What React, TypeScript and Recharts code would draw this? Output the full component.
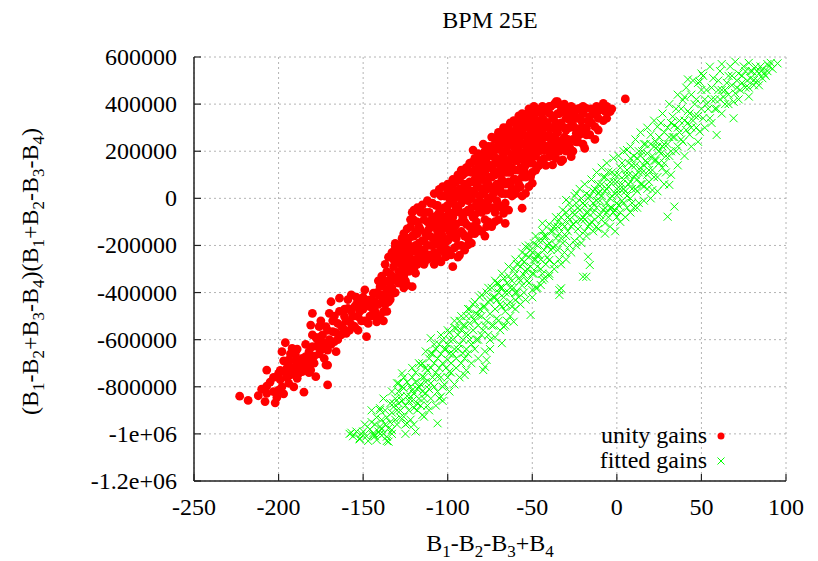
import React from "react";
import { ScatterChart, Scatter, XAxis, YAxis, CartesianGrid } from "recharts";

// values, [B1-B2-B3+B4, (B1-B2+B3-B4)(B1+B2-B3-B4)]
const unityGains: [number, number][] = [
  [-223, -840000], [-218, -858000], [-212, -838000], [-208, -863000], [-207, -828000], [-207, -797000],
  [-207, -729000], [-202, -868000], [-201, -845000], [-200, -814000], [-203, -821000], [-200, -743000],
  [-198, -800000], [-194, -785000], [-193, -750000], [-194, -708000], [-191, -800000], [-189, -764000],
  [-187, -708000], [-186, -736000], [-185, -823000], [-182, -708000], [-181, -729000], [-178, -757000],
  [-171, -708000], [-171, -792000], [-198, -651000], [-196, -613000], [-194, -686000], [-192, -637000],
  [-190, -665000], [-188, -715000], [-187, -694000], [-184, -672000], [-183, -715000], [-182, -651000],
  [-181, -694000], [-180, -488000], [-181, -538000], [-180, -580000], [-177, -630000], [-176, -545000],
  [-175, -587000], [-173, -615000], [-172, -707000], [-172, -545000], [-171, -644000], [-170, -488000],
  [-169, -439000], [-168, -566000], [-167, -608000], [-166, -651000], [-165, -531000], [-164, -424000],
  [-163, -580000], [-161, -502000], [-160, -573000], [-159, -467000], [-158, -524000], [-157, -410000],
  [-155, -545000], [-155, -460000], [-153, -502000], [-151, -432000], [-148, -587000], [-147, -531000],
  [-149, -389000], [-147, -432000], [-144, -474000], [-142, -524000], [-144, -403000], [-140, -375000],
  [-138, -481000], [-137, -417000], [-134, -361000], [-132, -403000], [-124, -368000], [-121, -375000],
  [-205, -780000], [-203, -760000], [-199, -770000], [-196, -740000], [-192, -720000], [-190, -690000],
  [-188, -742000], [-185, -700000], [-183, -680000], [-179, -670000], [-177, -600000], [-174, -640000],
  [-170, -600000], [-168, -520000], [-166, -570000], [-163, -540000], [-161, -470000], [-158, -560000],
  [-156, -500000], [-154, -450000], [-152, -480000], [-150, -420000], [-146, -460000], [-143, -440000],
  [-141, -410000], [-139, -440000], [-136, -390000], [-135, -440000], [-133, -330000], [-130, -350000],
  [-128, -320000], [-126, -380000], [-210, -810000], [-197, -830000], [-195, -720000],
  [-136, -311000], [-131, -205000], [-131, -191000], [-128, -276000], [-127, -240000], [-125, -300000],
  [-124, -215000], [-122, -262000], [-120, -50000], [-120, -92000], [-120, -160000], [-119, -318000],
  [-118, -230000], [-117, -190000], [-116, -134000], [-115, -28000], [-115, -270000], [-114, -219000],
  [-113, -150000], [-112, -100000], [-111, -240000], [-110, -163000], [-110, -21000], [-109, -200000],
  [-108, -120000], [-107, -262000], [-106, -70000], [-105, 38000], [-105, -170000], [-104, -220000],
  [-103, -130000], [-102, -40000], [-101, -248000], [-101, -78000], [-100, -180000], [-99, 0],
  [-98, -110000], [-97, -290000], [-97, -150000], [-96, -60000], [-95, 30000], [-94, -200000],
  [-93, -241000], [-93, 78000], [-92, -100000], [-91, -7000], [-90, -160000], [-89, 50000],
  [-88, -198000], [-88, 120000], [-87, 149000], [-87, -60000], [-86, 0], [-85, 205000],
  [-85, -120000], [-84, 80000], [-83, -20000], [-82, 150000], [-81, -50000], [-81, 92000],
  [-80, 40000], [-79, 180000], [-78, -90000], [-77, -120000], [-77, 149000], [-76, 60000],
  [-75, 0], [-74, 220000], [-73, 177000], [-73, -40000], [-72, -99000], [-72, 100000],
  [-71, 260000], [-70, 30000], [-69, 106000], [-69, 35000], [-68, 200000], [-67, -64000],
  [-67, 234000], [-66, -106000], [-66, 140000], [-65, 300000], [-64, 70000], [-63, 262000],
  [-63, 163000], [-62, 10000], [-61, 330000], [-60, 120000], [-59, 290000], [-58, 200000],
  [-57, 49000], [-57, 240000], [-56, -42000], [-56, 325000], [-55, 160000], [-54, 21000],
  [-53, 219000], [-53, 304000], [-52, 100000], [-51, 92000], [-51, 347000], [-50, 64000],
  [-50, 260000], [-49, 180000], [-47, 276000], [-47, 134000], [-46, 330000], [-45, 364000],
  [-44, 230000], [-43, 205000], [-42, 304000], [-40, 361000], [-40, 177000], [-38, 142000],
  [-37, 260000], [-36, 410000], [-35, 410000], [-34, 304000], [-33, 156000], [-32, 248000],
  [-32, 163000], [-30, 340000], [-29, 382000], [-29, 226000], [-28, 333000], [-27, 177000],
  [-24, 276000], [-22, 382000], [-22, 340000], [-20, 300000], [-19, 212000], [-18, 382000],
  [-18, 297000], [-18, 269000], [-16, 347000], [-13, 304000], [-10, 375000], [-8, 403000],
  [-6, 390000], [-4, 368000], [5, 422000],
  [-129, -260000], [-128, -210000], [-126, -190000], [-125, -250000], [-123, -170000], [-122, -120000],
  [-121, -210000], [-119, -140000], [-118, -100000], [-117, -250000], [-116, -60000], [-114, -180000],
  [-113, -60000], [-112, -200000], [-111, -130000], [-109, -80000], [-108, -170000], [-107, -30000],
  [-106, -140000], [-105, -100000], [-104, -50000], [-103, -190000], [-102, 10000], [-101, -120000],
  [-100, -30000], [-99, -140000], [-99, 40000], [-98, -70000], [-97, -20000], [-96, -120000],
  [-95, -170000], [-95, 70000], [-94, -40000], [-93, 10000], [-92, -140000], [-91, 100000],
  [-90, -60000], [-90, 20000], [-89, -110000], [-88, -10000], [-87, 70000], [-86, -150000],
  [-86, 110000], [-85, 30000], [-84, -70000], [-83, 160000], [-83, 60000], [-82, -40000],
  [-81, 10000], [-80, 120000], [-80, -20000], [-79, 80000], [-78, 200000], [-78, 30000],
  [-77, -50000], [-76, 130000], [-76, -10000], [-75, 90000], [-75, 190000], [-74, 40000],
  [-73, 120000], [-72, 250000], [-71, 60000], [-71, 170000], [-70, -30000], [-70, 220000],
  [-69, 140000], [-68, 80000], [-68, 280000], [-67, 180000], [-66, 20000], [-66, 250000],
  [-65, 110000], [-65, 200000], [-64, 160000], [-64, 300000], [-63, 60000], [-62, 230000],
  [-62, 130000], [-61, 190000], [-61, 270000], [-60, 80000], [-60, 320000], [-59, 160000],
  [-59, 230000], [-58, 120000], [-58, 350000], [-57, 270000], [-56, 190000], [-56, 90000],
  [-55, 300000], [-55, 230000], [-54, 140000], [-54, 350000], [-53, 260000], [-52, 190000],
  [-52, 380000], [-51, 150000], [-50, 300000], [-49, 220000], [-49, 350000], [-48, 250000],
  [-47, 200000], [-46, 290000], [-45, 160000], [-44, 340000], [-43, 260000], [-42, 220000],
  [-41, 380000], [-40, 300000], [-39, 250000], [-38, 340000], [-37, 200000], [-36, 290000],
  [-35, 360000], [-34, 240000], [-33, 390000], [-31, 300000], [-30, 200000], [-26, 310000],
  [-25, 360000], [-23, 240000], [-21, 300000], [-15, 320000], [-12, 360000],
  [-126, -230000], [-124, -280000], [-123, -200000], [-122, -230000], [-121, -160000], [-120, -260000],
  [-119, -200000], [-118, -150000], [-117, -120000], [-116, -220000], [-115, -180000], [-114, -90000],
  [-113, -240000], [-112, -150000], [-111, -60000], [-110, -110000], [-110, -200000], [-109, -20000],
  [-108, -230000], [-107, -90000], [-107, -180000], [-106, -30000], [-105, -200000], [-105, -60000],
  [-104, -130000], [-104, 10000], [-103, -80000], [-103, -160000], [-102, -110000], [-102, -200000],
  [-101, -40000], [-100, -100000], [-100, 30000], [-99, -170000], [-99, -60000], [-98, 20000],
  [-98, -130000], [-97, -80000], [-97, 60000], [-96, -160000], [-96, 0], [-95, -40000],
  [-95, -110000], [-94, 80000], [-94, -150000], [-93, -60000], [-93, 40000], [-92, -20000],
  [-92, 120000], [-91, -80000], [-91, -150000], [-90, 60000], [-90, -100000], [-89, 0],
  [-89, 110000], [-88, -50000], [-88, 40000], [-87, -120000], [-87, 10000], [-86, 150000],
  [-86, -40000], [-85, 70000], [-85, -80000], [-84, 120000], [-84, 20000], [-83, -100000],
  [-83, 100000], [-82, 50000], [-82, 190000], [-81, -10000], [-81, 140000], [-80, 80000],
  [-80, -60000], [-79, 20000], [-79, 230000], [-78, 110000], [-78, -30000], [-77, 170000],
  [-77, 60000], [-76, 0], [-76, 220000], [-75, 140000], [-75, -40000], [-74, 90000],
  [-74, 260000], [-73, 20000], [-73, 200000], [-72, 150000], [-72, 50000], [-71, 210000],
  [-71, -10000], [-70, 110000], [-70, 280000], [-69, 60000], [-69, 240000], [-68, 160000],
  [-68, 20000], [-67, 300000], [-67, 110000], [-66, 200000], [-66, 60000], [-65, 250000],
  [-65, 150000], [-64, 20000], [-64, 230000], [-63, 320000], [-63, 110000], [-62, 180000],
  [-62, 280000], [-61, 80000], [-61, 220000], [-60, 160000], [-60, 260000], [-59, 40000],
  [-59, 330000], [-58, 250000], [-58, 170000], [-57, 310000], [-57, 130000], [-56, 230000],
  [-56, 360000], [-55, 120000], [-55, 270000], [-54, 200000], [-54, 310000], [-53, 170000],
  [-53, 360000], [-52, 240000], [-52, 330000], [-51, 200000], [-51, 280000], [-50, 340000],
  [-50, 150000], [-49, 270000], [-49, 390000], [-48, 180000], [-48, 320000], [-47, 240000],
  [-47, 370000], [-46, 200000], [-46, 250000], [-45, 310000], [-45, 220000], [-44, 280000],
  [-44, 390000], [-43, 330000], [-43, 170000], [-42, 260000], [-42, 370000], [-41, 220000],
  [-41, 320000], [-40, 270000], [-39, 390000], [-39, 200000], [-38, 300000], [-38, 250000],
  [-37, 350000], [-37, 230000], [-36, 320000], [-36, 250000], [-35, 280000], [-34, 360000],
  [-33, 220000], [-33, 320000], [-31, 260000], [-31, 370000], [-30, 290000], [-29, 250000],
  [-28, 300000], [-27, 360000], [-26, 250000], [-25, 300000], [-24, 340000], [-23, 380000],
  [-21, 330000], [-20, 360000], [-17, 330000], [-14, 360000], [-11, 340000], [-9, 380000],
  [-150, -470000], [-149, -520000], [-148, -450000], [-146, -500000], [-145, -430000], [-143, -480000],
  [-142, -400000], [-141, -450000], [-140, -500000], [-139, -410000], [-138, -360000], [-137, -450000],
  [-136, -350000], [-135, -400000], [-134, -320000], [-133, -380000], [-132, -290000], [-131, -340000],
  [-130, -270000], [-129, -310000], [-127, -280000], [-126, -330000], [-125, -220000], [-123, -310000],
  [-121, -290000], [-199, -730000], [-197, -690000], [-195, -760000], [-193, -660000], [-191, -740000],
  [-189, -640000], [-186, -680000], [-184, -620000], [-182, -740000], [-180, -630000], [-179, -700000],
  [-178, -590000], [-176, -660000], [-175, -520000], [-174, -580000], [-173, -680000], [-171, -560000],
  [-169, -620000], [-167, -500000], [-165, -600000], [-164, -480000], [-162, -550000], [-160, -520000],
  [-159, -430000], [-157, -480000], [-156, -540000], [-154, -420000], [-153, -560000], [-152, -460000],
  [-151, -520000],
  [-141, -350000], [-139, -330000], [-137, -280000], [-135, -250000], [-133, -230000], [-132, -260000],
  [-130, -230000], [-129, -200000], [-127, -170000], [-126, -150000], [-124, -130000], [-122, -90000],
  [-121, -60000], [-118, -40000], [-143, -500000], [-138, -520000], [-136, -480000], [-134, -430000],
  [-131, -400000], [-129, -360000], [-127, -330000], [-125, -350000], [-123, -260000], [-120, -300000],
  [-118, -280000], [-116, -250000], [-114, -280000], [-112, -260000], [-110, -250000], [-108, -280000],
  [-106, -250000], [-104, -270000], [-102, -230000], [-100, -220000], [-98, -240000], [-96, -210000],
  [-94, -250000], [-92, -200000], [-90, -220000], [-88, -170000], [-86, -190000], [-84, -150000],
  [-82, -130000], [-80, -140000], [-78, -160000], [-76, -100000], [-74, -120000], [-72, -60000],
  [-70, -90000], [-68, -40000], [-66, -20000], [-64, -50000], [-62, 40000], [-60, 20000],
  [-58, 60000], [-56, 10000], [-54, 90000], [-52, 50000], [-50, 110000], [-48, 120000],
  [-46, 140000], [-44, 160000], [-42, 140000], [-40, 210000], [-38, 190000], [-36, 170000],
  [-34, 200000], [-32, 210000], [-30, 240000], [-28, 220000], [-26, 200000], [-24, 240000],
  [-22, 270000], [-20, 230000], [-16, 270000], [-13, 250000], [-11, 290000], [-8, 330000],
  [-6, 340000], [-3, 380000],
  [-112, -10000], [-108, 20000], [-103, 50000], [-100, 60000], [-97, 80000], [-94, 100000],
  [-91, 120000], [-89, 130000], [-86, 150000], [-84, 170000], [-81, 160000], [-79, 170000],
  [-76, 200000], [-73, 190000], [-70, 230000], [-67, 250000], [-64, 280000], [-62, 280000],
  [-59, 300000], [-57, 320000], [-54, 340000], [-50, 370000], [-47, 380000], [-43, 380000],
  [-40, 390000], [-37, 400000], [-33, 370000], [-31, 400000], [-27, 390000], [-25, 380000],
  [-20, 390000], [-15, 380000], [-12, 390000], [-7, 370000],
];

const fittedGains: [number, number][] = [
  [-158, -1000000], [-157, -995000], [-152, -1023000], [-152, -1019000], [-144, -997000], [-144, -1005000],
  [-142, -1026000], [-140, -899000], [-140, -891000], [-140, -969000], [-136, -1012000], [-135, -1033000],
  [-135, -976000], [-133, -983000], [-132, -885000], [-132, -870000], [-130, -785000], [-129, -785000],
  [-127, -743000], [-128, -842000], [-126, -927000], [-126, -806000], [-124, -955000], [-122, -842000],
  [-121, -814000], [-119, -990000], [-118, -870000], [-116, -708000], [-115, -757000], [-114, -927000],
  [-113, -828000], [-110, -785000], [-110, -594000], [-110, -658000], [-106, -955000], [-105, -849000],
  [-106, -757000], [-104, -842000], [-103, -800000], [-99, -736000], [-99, -601000], [-100, -686000],
  [-95, -552000], [-91, -658000], [-90, -750000], [-89, -573000], [-87, -531000], [-82, -495000],
  [-79, -729000], [-78, -715000], [-77, -686000], [-75, -601000], [-71, -432000], [-70, -361000],
  [-68, -615000], [-67, -545000], [-65, -453000], [-61, -524000], [-60, -432000], [-55, -325000],
  [-51, -495000], [-50, -389000], [-47, -290000], [-45, -368000], [-40, -262000], [-34, -410000],
  [-34, -390000], [-20, -333000], [-17, -248000], [-16, -283000], [-35, -219000], [-44, -347000],
  [-18, -333000], [-33, -382000], [-30, -7000], [-24, 21000], [-44, -106000], [-49, -191000],
  [-54, -205000], [-7, -106000],
  [-150, -990000], [-148, -1010000], [-146, -980000], [-143, -960000], [-141, -990000], [-139, -940000],
  [-138, -1000000], [-137, -960000], [-136, -930000], [-134, -950000], [-133, -910000], [-131, -940000],
  [-130, -900000], [-129, -870000], [-128, -900000], [-127, -860000], [-125, -880000], [-124, -840000],
  [-123, -900000], [-122, -800000], [-121, -860000], [-120, -830000], [-119, -780000], [-118, -810000],
  [-117, -850000], [-116, -790000], [-115, -820000], [-114, -760000], [-113, -780000], [-112, -730000],
  [-111, -810000], [-110, -720000], [-109, -760000], [-108, -700000], [-107, -740000], [-106, -680000],
  [-105, -720000], [-104, -660000], [-103, -700000], [-102, -640000], [-101, -720000], [-100, -620000],
  [-99, -660000], [-98, -700000], [-97, -600000], [-96, -640000], [-95, -680000], [-94, -580000],
  [-93, -620000], [-92, -560000], [-91, -600000], [-90, -540000], [-89, -640000], [-88, -580000],
  [-87, -600000], [-86, -500000], [-85, -560000], [-84, -520000], [-83, -600000], [-82, -540000],
  [-81, -470000], [-80, -500000], [-79, -560000], [-78, -460000], [-77, -520000], [-76, -440000],
  [-75, -490000], [-74, -540000], [-73, -420000], [-72, -470000], [-71, -510000], [-70, -400000],
  [-69, -450000], [-68, -380000], [-67, -420000], [-66, -480000], [-65, -360000], [-64, -400000],
  [-63, -440000], [-62, -350000], [-61, -380000], [-60, -320000], [-59, -400000], [-58, -340000],
  [-57, -290000], [-56, -370000], [-55, -270000], [-54, -310000], [-53, -350000], [-52, -250000],
  [-51, -290000], [-50, -230000], [-49, -320000], [-48, -260000], [-47, -200000], [-46, -240000],
  [-45, -300000], [-44, -180000], [-43, -220000], [-42, -160000], [-41, -250000], [-40, -190000],
  [-39, -140000], [-38, -210000], [-37, -120000], [-36, -170000], [-35, -100000], [-34, -150000],
  [-33, -80000], [-32, -190000], [-31, -120000], [-30, -60000], [-29, -140000], [-28, -90000],
  [-27, -40000], [-26, -110000], [-25, -70000], [-24, -20000], [-23, -130000], [-22, -50000],
  [-21, 0], [-20, -80000], [-19, -30000], [-18, 20000], [-17, -60000], [-16, 10000],
  [-15, -100000], [-14, -20000], [-13, 40000], [-12, -40000], [-11, 20000], [-10, -10000],
  [-9, 60000], [-8, -50000], [-7, 30000], [-6, -20000], [-5, 113000], [-5, 50000],
  [-4, 0], [-3, -40000], [-2, 70000], [-1, 20000], [0, -20000], [1, 100000],
  [2, 40000], [3, -10000], [4, 80000], [5, 30000], [6, 205000], [6, 120000],
  [7, 60000], [8, 0], [9, 140000], [10, 90000], [11, 40000], [12, 170000],
  [13, 110000], [14, 60000], [15, 200000], [16, 140000], [18, 191000], [18, 100000],
  [20, 230000], [21, 35000], [22, 160000], [24, 219000], [24, 304000], [25, 260000],
  [26, 190000], [28, 149000], [28, 280000], [30, -78000], [30, 230000], [31, 57000],
  [32, 320000], [33, 347000], [34, -35000], [34, 260000], [36, 300000], [38, 380000],
  [39, 417000], [40, 330000], [42, 505000], [42, 370000], [44, 300000], [46, 400000],
  [48, 350000], [49, 495000], [49, 283000], [50, 460000], [52, 420000], [54, 380000],
  [55, 559000], [56, 470000], [58, 420000], [59, 269000], [60, 500000], [62, 460000],
  [64, 400000], [66, 520000], [68, 480000], [69, 340000], [70, 446000], [72, 530000],
  [74, 490000], [76, 540000], [78, 432000], [79, 510000], [81, 502000], [82, 559000],
  [84, 530000], [86, 545000], [88, 520000], [90, 560000], [95, 573000],
  [-156, -1010000], [-154, -990000], [-151, -1000000], [-149, -960000], [-147, -1030000], [-145, -950000],
  [-143, -1010000], [-142, -930000], [-140, -1000000], [-139, -980000], [-137, -900000], [-136, -1030000],
  [-134, -870000], [-133, -1000000], [-131, -850000], [-130, -960000], [-129, -820000], [-128, -930000],
  [-127, -800000], [-125, -960000], [-124, -780000], [-123, -860000], [-122, -940000], [-121, -760000],
  [-120, -890000], [-119, -740000], [-118, -900000], [-117, -800000], [-116, -880000], [-115, -700000],
  [-114, -850000], [-113, -720000], [-112, -880000], [-111, -680000], [-110, -850000], [-109, -660000],
  [-108, -800000], [-107, -640000], [-106, -820000], [-105, -620000], [-104, -760000], [-103, -600000],
  [-102, -790000], [-101, -640000], [-100, -760000], [-99, -570000], [-98, -740000], [-97, -660000],
  [-96, -550000], [-95, -720000], [-94, -640000], [-93, -520000], [-92, -700000], [-91, -540000],
  [-90, -680000], [-89, -500000], [-88, -660000], [-87, -470000], [-86, -620000], [-85, -450000],
  [-84, -640000], [-83, -490000], [-82, -600000], [-81, -420000], [-80, -580000], [-79, -460000],
  [-78, -540000], [-77, -400000], [-76, -580000], [-75, -430000], [-74, -380000], [-73, -540000],
  [-72, -420000], [-71, -360000], [-70, -520000], [-69, -380000], [-68, -460000], [-67, -340000],
  [-66, -400000], [-65, -520000], [-64, -330000], [-63, -380000], [-62, -460000], [-61, -300000],
  [-60, -400000], [-59, -280000], [-58, -420000], [-57, -350000], [-56, -260000], [-55, -400000],
  [-54, -240000], [-53, -300000], [-52, -360000], [-51, -220000], [-50, -320000], [-49, -260000],
  [-48, -380000], [-47, -240000], [-46, -180000], [-45, -260000], [-44, -320000], [-43, -160000],
  [-42, -280000], [-41, -200000], [-40, -320000], [-39, -220000], [-38, -140000], [-37, -280000],
  [-36, -200000], [-35, -120000], [-34, -260000], [-33, -170000], [-32, -110000], [-31, -230000],
  [-30, -160000], [-29, -80000], [-28, -200000], [-27, -120000], [-26, -60000], [-25, -180000],
  [-24, -100000], [-23, -40000], [-22, -160000], [-21, -90000], [-20, -20000], [-19, -140000],
  [-18, -60000], [-17, 0], [-16, -110000], [-15, -40000], [-14, 30000], [-13, -90000],
  [-12, -10000], [-11, 60000], [-10, -70000], [-9, 10000], [-8, 90000], [-7, -40000],
  [-6, 40000], [-5, -80000], [-4, 70000], [-3, 10000], [-2, -60000], [-1, 100000],
  [0, 40000], [0, -80000], [1, -30000], [2, 130000], [3, 60000], [4, -20000],
  [5, 100000], [6, 10000], [7, 150000], [8, 70000], [9, -20000], [10, 180000],
  [11, 100000], [12, 30000], [13, 200000], [14, 130000], [15, 60000], [16, 230000],
  [17, 160000], [18, 40000], [19, 120000], [20, 270000], [21, 180000], [22, 90000],
  [23, 240000], [25, 150000], [26, 320000], [27, 220000], [29, 110000], [30, 300000],
  [31, 180000], [33, 260000], [35, 200000], [35, 380000], [37, 330000], [38, 250000],
  [40, 430000], [41, 290000], [43, 360000], [44, 440000], [45, 330000], [47, 420000],
  [48, 490000], [50, 380000], [51, 520000], [53, 460000], [55, 340000], [57, 510000],
  [58, 380000], [60, 460000], [61, 540000], [63, 430000], [65, 490000], [67, 560000],
  [69, 410000], [71, 500000], [73, 460000], [75, 560000], [77, 500000], [80, 540000],
  [83, 500000], [85, 560000], [87, 530000], [89, 570000], [92, 550000],
  [-125, -1000000], [-120, -960000], [-115, -920000], [-111, -900000], [-107, -880000], [-103, -860000],
  [-99, -820000], [-96, -790000], [-93, -760000], [-89, -730000], [-86, -700000], [-82, -680000],
  [-78, -650000], [-75, -640000], [-72, -590000], [-69, -560000], [-66, -540000], [-63, -500000],
  [-60, -470000], [-57, -450000], [-54, -430000], [-50, -420000], [-47, -380000], [-43, -340000],
  [-40, -330000], [-37, -300000], [-33, -280000], [-30, -260000], [-27, -230000], [-24, -200000],
  [-21, -190000], [-18, -160000], [-14, -140000], [-11, -130000], [-7, -150000], [-4, -120000],
  [-1, -140000], [2, -100000], [5, -80000], [8, -60000], [12, -40000], [16, -10000],
  [20, 0], [24, 30000], [28, 60000], [32, 100000], [36, 140000], [40, 180000],
  [44, 220000], [48, 240000], [52, 300000], [56, 320000], [62, 360000], [66, 400000],
  [72, 420000], [78, 470000], [84, 480000],
  [-145, -900000], [-138, -850000], [-133, -820000], [-126, -760000], [-121, -720000], [-117, -700000],
  [-113, -650000], [-108, -620000], [-104, -580000], [-100, -560000], [-96, -520000], [-92, -500000],
  [-88, -470000], [-84, -440000], [-80, -410000], [-76, -380000], [-72, -350000], [-68, -320000],
  [-64, -290000], [-60, -260000], [-56, -230000], [-52, -200000], [-48, -160000], [-44, -140000],
  [-40, -110000], [-36, -80000], [-32, -50000], [-28, -20000], [-25, 10000], [-22, 40000],
  [-19, 60000], [-15, 80000], [-12, 110000], [-9, 130000], [-6, 150000], [-2, 170000],
  [1, 180000], [4, 200000], [8, 220000], [11, 250000], [14, 280000], [18, 300000],
  [22, 330000], [27, 360000], [31, 400000], [36, 440000], [41, 470000], [45, 500000],
  [50, 530000], [62, 570000], [70, 580000], [78, 575000],
  [-19, -90000], [-17, -120000], [-14, -60000], [-12, -120000], [-10, 30000], [-9, -90000],
  [-7, 90000], [-6, -60000], [-4, -40000], [-3, 110000], [-1, -50000], [0, 70000],
  [1, 20000], [2, -60000], [3, 150000], [4, 40000], [6, -40000], [7, 100000],
  [8, 170000], [9, 40000], [10, -40000], [11, 140000], [12, 80000], [13, -20000],
  [14, 180000], [15, 110000], [16, 50000], [17, 230000], [18, 150000], [19, 70000],
  [21, 120000], [22, 220000], [23, 160000], [24, 90000], [25, 200000], [27, 130000],
  [28, 230000], [29, 180000], [31, 260000], [32, 200000], [34, 310000], [36, 220000],
  [37, 280000], [39, 240000], [42, 320000], [43, 270000], [46, 350000], [47, 300000],
  [51, 340000], [53, 400000], [56, 420000], [59, 380000], [61, 420000], [64, 460000],
  [66, 440000], [68, 520000], [71, 470000], [74, 520000], [76, 470000], [79, 540000],
  [81, 480000], [83, 540000], [86, 510000], [89, 540000], [91, 575000],
];

const xTicks = [-250, -200, -150, -100, -50, 0, 50, 100];
const yTicks = [-1200000, -1000000, -800000, -600000, -400000, -200000, 0, 200000, 400000, 600000];
const yTickLabels = ["-1.2e+06", "-1e+06", "-800000", "-600000", "-400000", "-200000", "0", "200000", "400000", "600000"];

const W = 818;
const H = 561;
const FONT = "'Liberation Serif', 'DejaVu Serif', serif";
const FRAME = "#222";
const TICK = 7;
const RED = "#ff0000";
const GREEN = "#00ff00";

const frameLine = { stroke: FRAME, strokeWidth: 1.5 };

const BottomTick = (props: any) => {
  const { x, y, payload } = props;
  return (
    <g>
      <line x1={x} x2={x} y1={y} y2={y - TICK} stroke={FRAME} strokeWidth={1.2} />
      <text x={x} y={y + 34} textAnchor="middle" fontSize={24} fontFamily={FONT} fill="#000">
        {payload.value}
      </text>
    </g>
  );
};

const TopTick = (props: any) => {
  const { x, y } = props;
  return <line x1={x} x2={x} y1={y} y2={y + TICK} stroke={FRAME} strokeWidth={1.2} />;
};

const LeftTick = (props: any) => {
  const { x, y, payload } = props;
  const i = yTicks.indexOf(payload.value);
  return (
    <g>
      <line x1={x} x2={x + TICK} y1={y} y2={y} stroke={FRAME} strokeWidth={1.2} />
      <text x={x - 17} y={y + 8} textAnchor="end" fontSize={24} fontFamily={FONT} fill="#000">
        {yTickLabels[i]}
      </text>
    </g>
  );
};

const RightTick = (props: any) => {
  const { x, y } = props;
  return <line x1={x} x2={x - TICK} y1={y} y2={y} stroke={FRAME} strokeWidth={1.2} />;
};

const Dot = (p: any) => <circle cx={p.cx} cy={p.cy} r={4.4} fill={RED} />;

const Cross = (p: any) => (
  <path
    d={`M${p.cx - 4},${p.cy - 4}L${p.cx + 4},${p.cy + 4}M${p.cx - 4},${p.cy + 4}L${p.cx + 4},${p.cy - 4}`}
    stroke={GREEN}
    strokeWidth={1}
    fill="none"
  />
);

const sub = { fontSize: 17, position: "relative" as const, top: 6 };

export default function App() {
  const unity = unityGains.map(([x, y]) => ({ x, y }));
  const fitted = fittedGains.map(([x, y]) => ({ x, y }));

  return (
    <div style={{ position: "absolute", left: 0, top: 0, width: W, height: H, background: "#fff", fontFamily: FONT, color: "#000" }}>
      <ScatterChart width={W} height={H} margin={{ top: 57, right: 32, bottom: 0, left: 0 }}>
        <CartesianGrid stroke="#b4b4b4" strokeDasharray="2 3" strokeWidth={1} />
        <XAxis
          dataKey="x"
          type="number"
          domain={[-250, 100]}
          ticks={xTicks}
          interval={0}
          height={80}
          tickSize={0}
          tickMargin={0}
          tickLine={false}
          axisLine={frameLine}
          tick={BottomTick}
        />
        <XAxis
          xAxisId="top"
          orientation="top"
          dataKey="x"
          type="number"
          domain={[-250, 100]}
          ticks={xTicks}
          interval={0}
          height={0}
          tickSize={0}
          tickMargin={0}
          tickLine={false}
          axisLine={frameLine}
          tick={TopTick}
        />
        <YAxis
          dataKey="y"
          type="number"
          domain={[-1200000, 600000]}
          ticks={yTicks}
          interval={0}
          width={194}
          tickSize={0}
          tickMargin={0}
          tickLine={false}
          axisLine={frameLine}
          tick={LeftTick}
        />
        <YAxis
          yAxisId="right"
          orientation="right"
          dataKey="y"
          type="number"
          domain={[-1200000, 600000]}
          ticks={yTicks}
          interval={0}
          width={0}
          tickSize={0}
          tickMargin={0}
          tickLine={false}
          axisLine={frameLine}
          tick={RightTick}
        />
        <Scatter name="unity gains" data={unity} shape={Dot} isAnimationActive={false} />
        <Scatter name="fitted gains" data={fitted} shape={Cross} isAnimationActive={false} />
      </ScatterChart>

      <div style={{ position: "absolute", left: 290, width: 400, top: 6, textAlign: "center", fontSize: 24, lineHeight: "28px" }}>
        BPM 25E
      </div>

      <div style={{ position: "absolute", left: 290, width: 400, top: 529, textAlign: "center", fontSize: 24, lineHeight: "28px", whiteSpace: "nowrap" }}>
        B<span style={sub}>1</span>-B<span style={sub}>2</span>-B<span style={sub}>3</span>+B<span style={sub}>4</span>
      </div>

      <div
        style={{
          position: "absolute",
          left: 31 - 250,
          width: 500,
          top: 270 - 14,
          textAlign: "center",
          fontSize: 24,
          lineHeight: "28px",
          whiteSpace: "nowrap",
          transform: "rotate(-90deg)",
          transformOrigin: "center center",
        }}
      >
        (B<span style={sub}>1</span>-B<span style={sub}>2</span>+B<span style={sub}>3</span>-B<span style={sub}>4</span>)(B
        <span style={sub}>1</span>+B<span style={sub}>2</span>-B<span style={sub}>3</span>-B<span style={sub}>4</span>)
      </div>

      <div style={{ position: "absolute", left: 500, width: 207, top: 423, textAlign: "right", fontSize: 24, lineHeight: "25px" }}>
        <div>unity gains</div>
        <div>fitted gains</div>
      </div>
      <svg style={{ position: "absolute", left: 710, top: 426 }} width={24} height={46}>
        <circle cx={11} cy={10} r={3.5} fill={RED} />
        <path d="M7.5,31.5L14.5,38.5M7.5,38.5L14.5,31.5" stroke={GREEN} strokeWidth={1} fill="none" />
      </svg>
    </div>
  );
}
